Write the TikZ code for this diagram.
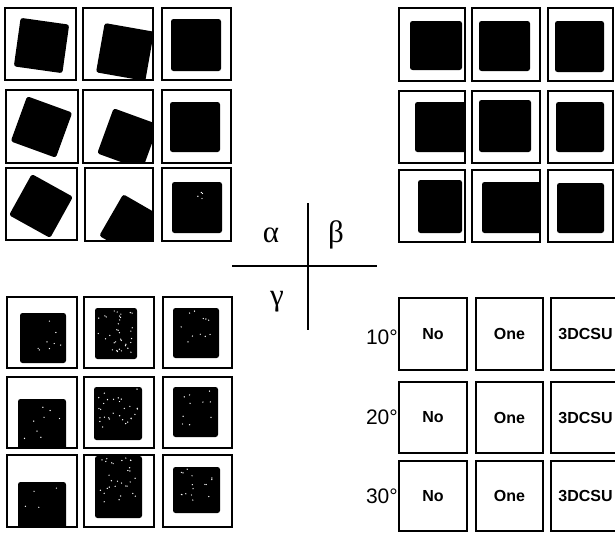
\documentclass[tikz,border=0pt]{standalone}
\usepackage{fontspec}
\setmainfont{Liberation Sans}
\newfontfamily\lserif{Liberation Serif}
\begin{document}
\begin{tikzpicture}[x=1pt,y=-1pt,
  panelborder/.style={draw=black,line width=2.1pt},
  sq/.style={fill=black,rounded corners=2.5pt},
  speck/.style={fill=white},
  lblbox/.style={draw=black,line width=1.6pt,inner sep=0pt,font=\bfseries\fontsize{16}{18}\selectfont},
  deglbl/.style={anchor=east,inner sep=0pt,font=\fontsize{21}{24}\selectfont},
  greek/.style={anchor=base,inner sep=0pt,font=\lserif\fontsize{31}{34}\selectfont},
  crossline/.style={line width=1.7pt}]
\useasboundingbox (0,0) rectangle (615,533);
\newcommand\imgpanel[5]{%
  \begin{scope}\clip (#1,#2) rectangle (#3,#4); #5 \end{scope}
  \draw[panelborder] (#1,#2) rectangle (#3,#4);}
\newcommand\rsq[4]{\fill[sq,rotate around={-#4:(#1,#2)}] ({#1-#3/2},{#2-#3/2}) rectangle ({#1+#3/2},{#2+#3/2});}
\newcommand\asq[4]{\fill[sq] (#1,#2) rectangle (#3,#4);}
\newcommand\specks[5]{\foreach \k in {1,...,#5}{\fill[speck] ({#1+#3*rand},{#2+#4*rand}) circle (0.7);}}
\pgfmathsetseed{11}
% ---- top-left (alpha) ----
\imgpanel{5}{8}{76}{80}{\rsq{41.5}{45.5}{49}{8}}
\imgpanel{83}{8}{153}{80}{\rsq{125}{52}{50}{10}}
\imgpanel{162}{8}{231}{80}{\asq{171}{19}{221}{71}}
\imgpanel{6}{90}{78}{163}{\rsq{41.5}{127}{48}{20}}
\imgpanel{83}{90}{153}{163}{\rsq{128}{139}{48}{20}}
\imgpanel{162}{90}{231}{163}{\asq{170}{102}{220}{152}}
\imgpanel{6}{168}{77}{240}{\rsq{41}{206}{47}{29}}
\imgpanel{85}{168}{153}{241}{\rsq{132}{227}{48}{30}}
\imgpanel{162}{168}{231}{241}{\asq{172}{182}{222}{233}\specks{200}{195}{6}{5}{4}}
% ---- top-right (beta) ----
\imgpanel{399}{8}{465}{81}{\asq{410}{21}{462}{70}}
\imgpanel{472}{8}{540}{81}{\asq{479}{21}{530}{71}}
\imgpanel{548}{8}{613}{81}{\asq{555}{21}{604}{72}}
\imgpanel{399}{91}{465}{163}{\asq{415}{102}{468}{152}}
\imgpanel{472}{91}{540}{163}{\asq{479}{100}{531}{152}}
\imgpanel{548}{91}{613}{163}{\asq{556}{102}{604}{152}}
\imgpanel{399}{170}{465}{242}{\asq{418}{180}{462}{233}}
\imgpanel{472}{170}{540}{242}{\asq{482}{182}{543}{233}}
\imgpanel{548}{170}{613}{242}{\asq{557}{183}{604}{233}}
% ---- bottom-left (gamma) ----
\imgpanel{7}{297}{77}{368}{\asq{20}{313}{66}{363}\specks{43}{338}{18}{20}{8}}
\imgpanel{84}{297}{154}{368}{\asq{95}{308}{137}{359}\specks{116}{333}{18}{22}{35}}
\imgpanel{163}{297}{232}{368}{\asq{173}{308}{219}{358}\specks{196}{325}{15}{18}{12}}
\imgpanel{7}{377}{77}{448}{\asq{18}{399}{66}{450}\specks{42}{425}{18}{20}{8}}
\imgpanel{84}{377}{154}{448}{\asq{94}{387}{142}{440}\specks{118}{408}{20}{20}{30}}
\imgpanel{163}{377}{232}{448}{\asq{173}{387}{218}{437}\specks{196}{410}{16}{20}{10}}
\imgpanel{7}{455}{77}{527}{\asq{18}{482}{66}{529}\specks{42}{505}{18}{18}{4}}
\imgpanel{84}{455}{154}{527}{\asq{95}{456}{142}{518}\specks{118}{480}{20}{22}{30}}
\imgpanel{163}{455}{232}{527}{\asq{173}{467}{220}{513}\specks{195}{485}{18}{18}{16}}
% ---- cross and Greek labels ----
\coordinate (vtop) at (308,203);
\coordinate (vbot) at (308,330);
\coordinate (hleft) at (232,266);
\coordinate (hright) at (377,266);
\draw[crossline] (vtop) -- (vbot);
\draw[crossline] (hleft) -- (hright);
\node[greek] (alpha) at (271,242) {α};
\node[greek] (beta) at (336,242) {β};
\node[greek] (gamma) at (277,305) {γ};
% ---- bottom-right label grid ----
\node[lblbox,minimum width=68pt,minimum height=72pt] (no10) at (433,334) {No};
\node[lblbox,minimum width=67pt,minimum height=72pt] (one10) at (509.5,334) {One};
\node[lblbox,minimum width=69pt,minimum height=72pt] (cs10) at (585.5,334) {3DCSU};
\node[lblbox,minimum width=68pt,minimum height=71pt] (no20) at (433,417.5) {No};
\node[lblbox,minimum width=67pt,minimum height=71pt] (one20) at (509.5,417.5) {One};
\node[lblbox,minimum width=69pt,minimum height=71pt] (cs20) at (585.5,417.5) {3DCSU};
\node[lblbox,minimum width=68pt,minimum height=70pt] (no30) at (433,496) {No};
\node[lblbox,minimum width=67pt,minimum height=70pt] (one30) at (509.5,496) {One};
\node[lblbox,minimum width=69pt,minimum height=70pt] (cs30) at (585.5,496) {3DCSU};
\node[deglbl] (d10) at (398,337) {10°};
\node[deglbl] (d20) at (398,417) {20°};
\node[deglbl] (d30) at (398,496) {30°};
\end{tikzpicture}
\end{document}
